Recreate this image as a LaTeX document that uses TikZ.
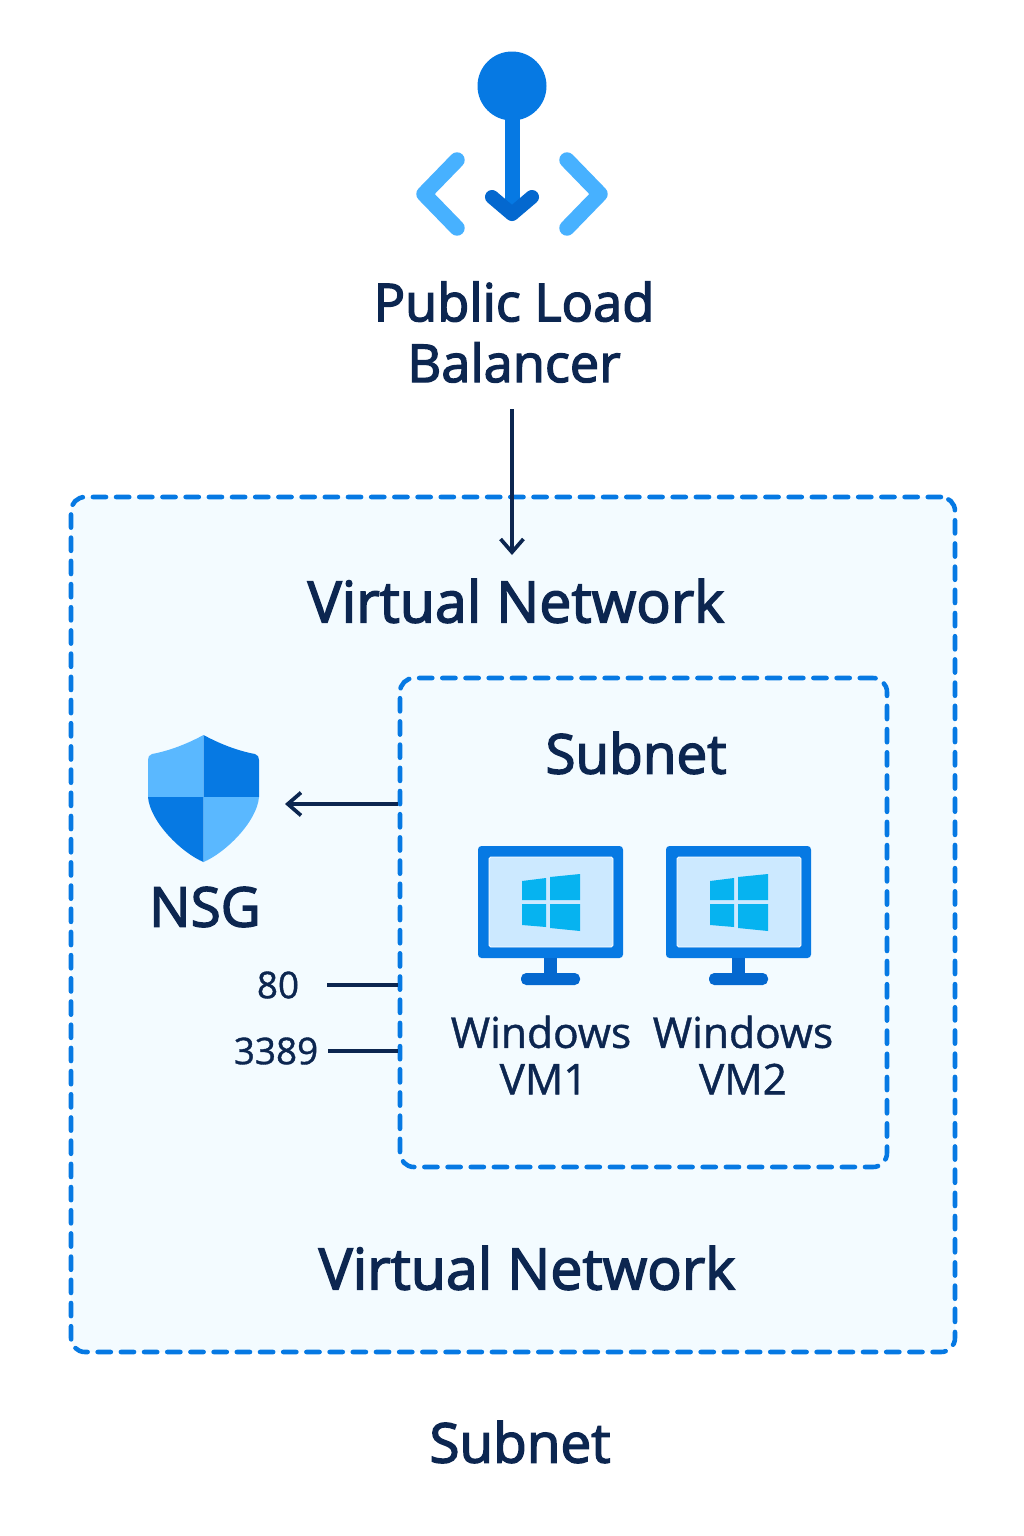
\documentclass[tikz,border=0pt]{standalone}
\usepackage{fontspec}
\setmainfont{Open Sans}[FakeBold=1.0]
\newfontfamily\titlefont{Open Sans}[FakeBold=2.6]
\usetikzlibrary{arrows.meta, positioning}
\definecolor{azureblue}{HTML}{0679E3}
\definecolor{deepblue}{HTML}{0468CF}
\definecolor{skyblue}{HTML}{47B1FF}
\definecolor{lightshield}{HTML}{5AB8FF}
\definecolor{navytext}{HTML}{0C2650}
\definecolor{netfill}{HTML}{F3FBFF}
\definecolor{screenfill}{HTML}{CCE9FF}
\definecolor{winblue}{HTML}{06B3F0}

\tikzset{
    zonebox/.style={rectangle, draw=azureblue, fill=netfill, line width=2.6pt, rounded corners=8pt, line cap=round, dash pattern=on 7.5pt off 5.7pt, inner sep=0pt},
    bigtitle/.style={text=navytext, font=\fontsize{32.6}{34}\selectfont\titlefont, inner sep=0pt},
    smalltitle/.style={text=navytext, font=\fontsize{31.2}{34}\selectfont\titlefont, inner sep=0pt},
    lbtitle/.style={text=navytext, font=\fontsize{29.8}{34.6}\selectfont\titlefont, align=center, inner sep=0pt},
    vmtitle/.style={text=navytext, font=\fontsize{24.2}{26.5}\selectfont, align=center, inner sep=0pt},
    porttitle/.style={text=navytext, font=\fontsize{21}{21}\selectfont, inner sep=0pt},
    arrow/.style={-{Straight Barb[length=7.5pt,width=13pt,line width=2.1pt]}, line width=2.1pt, navytext},
    portline/.style={line width=2.1pt, navytext},
    vmicon/.pic={
        \fill[azureblue, rounded corners=2pt] (0,0) rectangle (145,112);
        \fill[screenfill, draw=white, line width=0.5pt, rounded corners=1pt] (11,11) rectangle (135,101);
        \fill[deepblue] (66,112) rectangle (79,128);
        \fill[deepblue, rounded corners=3pt] (43,127) rectangle (102,139);
        \fill[winblue] (44,35) -- (68,32) -- (68,54) -- (44,54) -- cycle;
        \fill[winblue] (72,31) -- (102,28) -- (102,54) -- (72,54) -- cycle;
        \fill[winblue] (44,58) -- (68,58) -- (68,81) -- (44,79) -- cycle;
        \fill[winblue] (72,58) -- (102,58) -- (102,85) -- (72,82) -- cycle;
    }
}

\begin{document}
\begin{tikzpicture}[x=0.02cm, y=-0.02cm]
    \useasboundingbox[fill=white] (0,0) rectangle (1024,1536);

    % load balancer icon
    \fill[azureblue] (512,86) circle (34.5);
    \fill[azureblue] (504.5,115) rectangle (519.5,212);
    \draw[deepblue, line width=8pt, line cap=round, line join=round] (492,197) -- (512,214) -- (532,197);
    \draw[skyblue, line width=8.8pt, line cap=round, line join=round] (457,160) -- (424,194) -- (457,228);
    \draw[skyblue, line width=8.8pt, line cap=round, line join=round] (567,160) -- (600,194) -- (567,228);
    \node[lbtitle] (lbtitle) at (514,332) {Public Load\\Balancer};

    % zones
    \node[zonebox, minimum width=884*0.02cm, minimum height=855*0.02cm] (vnetbox) at (513,924.5) {};
    \node[zonebox, minimum width=487*0.02cm, minimum height=489*0.02cm] (subnetbox) at (643.5,922.5) {};

    \node[bigtitle] (vnettop) at (516,601) {Virtual Network};
    \node[smalltitle] (subnettop) at (636,753) {Subnet};
    \node[bigtitle] (vnetbottom) at (527,1268) {Virtual Network};
    \node[smalltitle] (subnetbottom) at (520,1442) {Subnet};

    % shield
    \fill[lightshield] (203.5,735) .. controls (185,745) and (168,751) .. (152,754) .. controls (149,755) and (148,757) .. (148,760) -- (148,797) -- (203.5,797) -- cycle;
    \fill[azureblue] (203.5,735) .. controls (222,745) and (239,751) .. (255,754) .. controls (258,755) and (259,757) .. (259,760) -- (259,797) -- (203.5,797) -- cycle;
    \fill[azureblue] (148,797) .. controls (150,822) and (182,853) .. (203.5,862) -- (203.5,797) -- cycle;
    \fill[lightshield] (259,797) .. controls (257,822) and (225,853) .. (203.5,862) -- (203.5,797) -- cycle;
    \node[smalltitle] (nsg) at (205,907) {NSG};

    % vms
    \pic at (478,846) {vmicon};
    \pic at (666,846) {vmicon};
    \node[vmtitle] (vm1) at (541,1055) {Windows\\\hspace{3pt}VM1};
    \node[vmtitle] (vm2) at (743,1055) {Windows\\VM2};

    % ports
    \node[porttitle] (port80) at (278,985) {80};
    \node[porttitle] (port3389) at (276,1051) {3389};

    % connectors
    \coordinate (lbend) at (512,409);
    \coordinate (vnetend) at (512,555);
    \coordinate (nsgend) at (285,804);
    \coordinate (nsgstart) at (subnetbox.west |- nsgend);
    \coordinate (line80) at (327,985);
    \coordinate (line3389) at (328,1051);
    \draw[arrow] (lbend) -- (vnetend);
    \draw[arrow] (nsgstart) -- (nsgend);
    \draw[portline] (line80) -- (subnetbox.west |- line80);
    \draw[portline] (line3389) -- (subnetbox.west |- line3389);
\end{tikzpicture}
\end{document}
